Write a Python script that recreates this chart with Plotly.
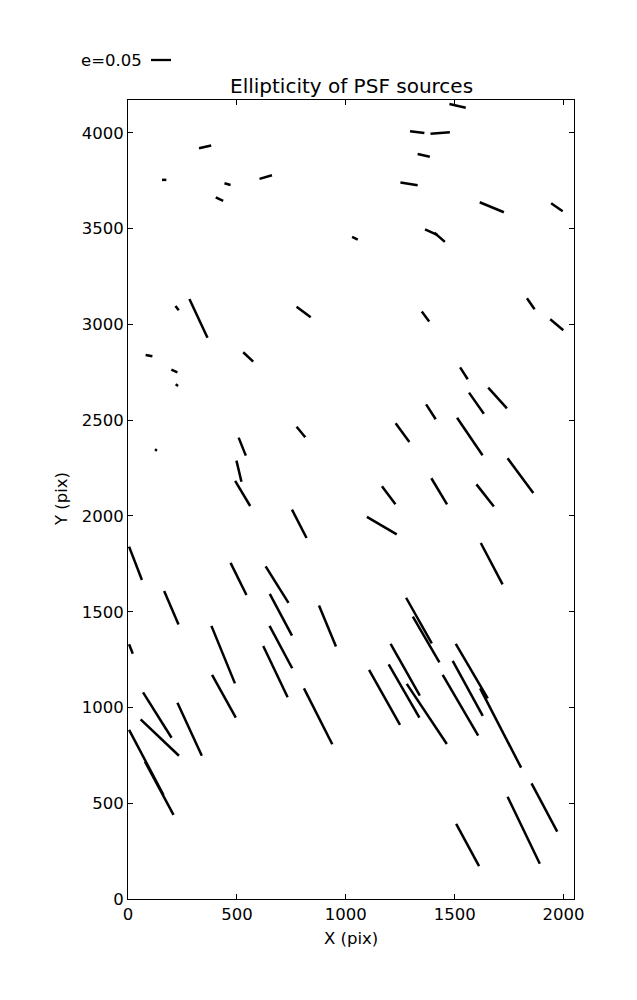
import plotly.graph_objects as go

# Whisker endpoints (data units, pixels on the detector)
seg_x0 = [326, 156, 443, 604, 403, 218, 282, 774, 81, 529,
          1476, 1295, 1389, 1330, 1251, 1615, 1943, 1029, 1364, 1407,
          1349, 1832, 1939, 199, 219, 124, 508, 498, 492, 774,
          753, 5, 471, 632, 166, 651, 5, 383, 650, 621,
          877, 386, 69, 58, 227, 5, 78, 808, 1525, 1654,
          1566, 1369, 1511, 1229, 1743, 1166, 1393, 1600, 1097, 1620,
          1277, 1308, 1206, 1107, 1197, 1280, 1445, 1491, 1505, 1617,
          1853, 1743, 1507]
seg_y0 = [3920, 3755, 3737, 3760, 3664, 3097, 3133, 3093, 2841, 2855,
          4151, 4009, 3996, 3890, 3741, 3638, 3633, 3457, 3497, 3479,
          3067, 3137, 3027, 2764, 2688, 2348, 2409, 2289, 2183, 2466,
          2033, 1840, 1755, 1737, 1608, 1593, 1330, 1426, 1426, 1321,
          1532, 1170, 1079, 938, 1025, 883, 717, 1100, 2776, 2670,
          2644, 2583, 2513, 2484, 2301, 2155, 2197, 2165, 1995, 1859,
          1573, 1474, 1332, 1196, 1225, 1123, 1170, 1243, 1332, 1100,
          604, 534, 392]
seg_x1 = [382, 176, 471, 661, 437, 233, 365, 839, 112, 575,
          1551, 1361, 1478, 1386, 1330, 1726, 1996, 1055, 1422, 1455,
          1383, 1867, 1999, 227, 230, 133, 541, 521, 561, 814,
          820, 64, 544, 737, 232, 753, 22, 491, 754, 733,
          955, 495, 200, 234, 339, 163, 209, 938, 1560, 1740,
          1634, 1413, 1628, 1292, 1861, 1228, 1465, 1680, 1234, 1720,
          1395, 1430, 1340, 1249, 1338, 1464, 1608, 1629, 1652, 1805,
          1971, 1891, 1612]
seg_y1 = [3934, 3755, 3728, 3779, 3645, 3074, 2931, 3037, 2834, 2806,
          4132, 4000, 4003, 3876, 3727, 3586, 3591, 3443, 3466, 3431,
          3015, 3079, 2970, 2750, 2679, 2341, 2315, 2179, 2052, 2411,
          1885, 1666, 1587, 1546, 1433, 1375, 1281, 1126, 1205, 1053,
          1318, 947, 842, 748, 748, 543, 439, 808, 2714, 2562,
          2534, 2505, 2317, 2386, 2120, 2061, 2061, 2049, 1904, 1643,
          1335, 1236, 1062, 909, 947, 809, 853, 956, 1048, 686,
          352, 184, 172]

x_ticks = [0, 500, 1000, 1500, 2000]
y_ticks = [0, 500, 1000, 1500, 2000, 2500, 3000, 3500, 4000]
x_max = 2048
y_max = 4172

title_text = "Ellipticity of PSF sources"
x_label = "X (pix)"
y_label = "Y (pix)"
key_label = "e=0.05"

xs, ys = [], []
for a, b, c, d in zip(seg_x0, seg_y0, seg_x1, seg_y1):
    xs += [a, c, None]
    ys += [b, d, None]

FONT = "DejaVu Sans"
PLOT_W = 446
PLOT_H = 799
fig = go.Figure()
fig.add_trace(go.Scatter(x=xs, y=ys, mode="lines",
                         line=dict(color="black", width=2.5),
                         showlegend=False, hoverinfo="skip"))

axis_common = dict(showline=True, linecolor="black", linewidth=1, mirror="ticks",
                   ticks="inside", ticklen=5, tickwidth=1, tickcolor="black",
                   showgrid=False, zeroline=False,
                   tickfont=dict(family=FONT, size=16.5, color="black"))
fig.update_xaxes(range=[0, x_max], tickvals=x_ticks, **axis_common)
fig.update_yaxes(range=[0, y_max], tickvals=y_ticks, **axis_common)

# the page body adds an 8px offset, so margins are shifted to compensate
fig.update_layout(
    width=637, height=1000,
    margin=dict(l=120, r=71, t=92, b=109),
    plot_bgcolor="white", paper_bgcolor="white",
    font=dict(family=FONT, size=16, color="black"),
    annotations=[
        dict(text=title_text, xref="paper", yref="paper", x=0.5, y=1,
             xanchor="center", yanchor="bottom", yshift=0, showarrow=False,
             font=dict(family=FONT, size=20, color="black")),
        dict(text=x_label, xref="paper", yref="paper", x=0.5, y=0,
             xanchor="center", yanchor="top", yshift=-28, showarrow=False,
             font=dict(family=FONT, size=16.5, color="black")),
        dict(text=y_label, xref="paper", yref="paper", x=0, y=0.5,
             xanchor="right", yanchor="middle", xshift=-55, textangle=-90,
             showarrow=False, font=dict(family=FONT, size=16.5, color="black")),
        dict(text=key_label, xref="paper", yref="paper", x=-49 / PLOT_W, y=1,
             xanchor="left", yanchor="middle", yshift=40, showarrow=False,
             font=dict(family=FONT, size=16.5, color="black")),
    ],
    shapes=[dict(type="line", xref="paper", yref="paper",
                 x0=(151 - 128) / PLOT_W, x1=(171 - 128) / PLOT_W,
                 y0=1 + 40 / PLOT_H, y1=1 + 40 / PLOT_H,
                 line=dict(color="black", width=2.3))],
)

fig.write_html("out.html")
